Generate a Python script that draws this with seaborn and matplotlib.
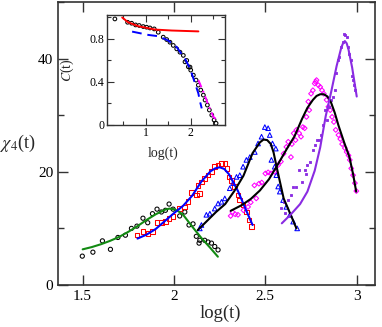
import numpy as np
import matplotlib
matplotlib.use("Agg")
import matplotlib.pyplot as plt
import seaborn as sns
from matplotlib.ticker import MultipleLocator

# --- main panel: chi_4(t) data sets ---
circ_x = [1.498, 1.556, 1.608, 1.652, 1.693, 1.734, 1.767, 1.797, 1.830, 1.856, 1.882, 1.907,
          1.931, 1.953, 1.973, 1.995, 2.031, 2.059, 2.082, 2.104, 2.122, 2.137, 2.141, 2.168,
          2.186, 2.205, 2.223, 2.241]
circ_y = [5.1, 5.8, 7.8, 6.3, 8.4, 8.8, 10.0, 10.4, 11.8, 11.0, 12.6, 13.4,
          12.9, 13.2, 14.3, 13.4, 12.2, 12.9, 10.6, 10.8, 8.6, 7.4, 7.9, 7.9,
          7.6, 7.4, 6.8, 6.2]

sq_x = [1.797, 1.830, 1.858, 1.882, 1.907, 1.931, 1.953, 1.973, 1.995, 2.031, 2.059, 2.077,
        2.095, 2.123, 2.141, 2.131, 2.150, 2.168, 2.186, 2.205, 2.223, 2.241, 2.260, 2.278,
        2.290, 2.301, 2.314, 2.332, 2.350, 2.360, 2.378, 2.396, 2.411, 2.424]
sq_y = [8.8, 9.5, 9.1, 9.4, 11.0, 11.0, 11.2, 11.8, 12.1, 13.5, 13.8, 14.7,
        16.3, 15.9, 16.2, 17.6, 18.2, 18.8, 19.4, 20.0, 20.9, 21.2, 21.5, 21.5,
        20.6, 19.1, 18.5, 17.4, 15.9, 15.0, 14.1, 12.9, 11.5, 10.3]

tri_x = [2.141, 2.150, 2.177, 2.196, 2.223, 2.241, 2.260, 2.278, 2.305, 2.323, 2.342, 2.360,
         2.378, 2.396, 2.415, 2.442, 2.460, 2.479, 2.497, 2.515, 2.524, 2.539, 2.557, 2.533,
         2.551, 2.560, 2.570, 2.579, 2.597, 2.615, 2.634, 2.652, 2.674]
tri_y = [10.0, 10.6, 12.4, 12.6, 13.5, 14.4, 14.7, 15.3, 17.1, 18.0, 19.1, 19.4,
         20.9, 22.1, 22.6, 23.5, 25.0, 26.2, 27.9, 27.7, 26.5, 25.0, 24.1, 22.1,
         20.9, 19.4, 17.4, 16.5, 15.0, 13.8, 12.4, 11.2, 10.0]

dia_x = [2.310, 2.320, 2.335, 2.350, 2.380, 2.405, 2.420, 2.440, 2.450, 2.465, 2.480, 2.500,
         2.515, 2.530, 2.550, 2.570, 2.585, 2.600, 2.615, 2.625, 2.640, 2.645, 2.655, 2.665,
         2.670, 2.685, 2.695, 2.705, 2.715, 2.725, 2.735, 2.740, 2.750, 2.760, 2.770, 2.775,
         2.780, 2.790, 2.800, 2.810, 2.820, 2.835, 2.845, 2.855, 2.865, 2.875, 2.885, 2.900,
         2.910, 2.920, 2.935, 2.945, 2.955, 2.962, 2.970, 2.980, 2.990, 2.998]
dia_y = [12.2, 12.9, 12.5, 12.4, 13.2, 13.8, 14.6, 17.6, 15.3, 17.9, 18.1, 19.7,
         19.9, 19.7, 20.0, 21.2, 21.8, 23.2, 24.4, 25.3, 22.6, 24.9, 26.8, 25.6,
         27.4, 26.8, 26.2, 27.9, 27.7, 29.7, 32.4, 30.9, 33.8, 34.4, 35.6, 35.9,
         36.2, 35.3, 35.0, 34.4, 33.8, 32.7, 31.5, 30.9, 29.7, 28.8, 27.4, 26.5,
         25.8, 24.9, 24.2, 23.5, 22.9, 22.1, 20.6, 19.4, 18.0, 16.6]

dot_x = [2.585, 2.600, 2.610, 2.625, 2.640, 2.650, 2.665, 2.685, 2.700, 2.715, 2.720, 2.730,
         2.745, 2.760, 2.770, 2.780, 2.795, 2.805, 2.815, 2.825, 2.840, 2.850, 2.860, 2.870,
         2.880, 2.885, 2.895, 2.905, 2.915, 2.925, 2.930, 2.937, 2.945, 2.952, 2.960, 2.968,
         2.975, 2.980, 2.985, 2.990]
dot_y = [13.6, 14.7, 12.8, 15.0, 15.9, 17.4, 17.4, 20.3, 18.2, 20.3, 19.6, 21.2,
         21.8, 23.8, 24.7, 25.6, 25.6, 26.5, 28.2, 30.9, 29.1, 31.5, 32.7, 33.2,
         34.4, 37.4, 39.7, 40.3, 42.0, 42.9, 44.4, 44.2, 43.8, 42.1, 40.9, 39.7,
         37.0, 36.2, 35.3, 34.4]

# fitted curves
green_x = [1.50, 1.55, 1.60, 1.65, 1.70, 1.75, 1.80, 1.85, 1.90, 1.95, 1.975, 2.00, 2.025,
           2.05, 2.10, 2.15, 2.20, 2.24]
green_y = [6.3, 6.7, 7.2, 7.8, 8.5, 9.4, 10.4, 11.5, 12.5, 13.3, 13.5, 13.4, 13.0,
           12.4, 10.3, 8.3, 6.5, 5.0]

bfit_x = [1.80, 1.85, 1.90, 1.95, 2.00, 2.05, 2.10, 2.15, 2.20, 2.225, 2.25, 2.275, 2.30,
          2.35, 2.40, 2.43]
bfit_y = [8.2, 8.9, 9.9, 11.3, 12.7, 14.0, 15.8, 18.3, 20.1, 20.6, 20.8, 20.5, 19.6,
          16.6, 12.8, 10.6]

k1_x = [2.13, 2.18, 2.23, 2.28, 2.33, 2.38, 2.43, 2.47, 2.49, 2.51, 2.53, 2.545, 2.56,
        2.60, 2.64, 2.67]
k1_y = [9.7, 11.3, 12.9, 14.3, 16.6, 19.3, 23.3, 25.2, 25.7, 25.6, 24.9, 23.4, 21.1,
        15.3, 12.3, 10.0]

k2_x = [2.31, 2.37, 2.42, 2.47, 2.52, 2.57, 2.62, 2.66, 2.70, 2.73, 2.76, 2.78, 2.80,
        2.82, 2.84, 2.86, 2.88, 2.90, 2.93, 2.96, 2.98, 2.997]
k2_y = [13.1, 14.1, 15.2, 16.7, 18.7, 21.4, 24.2, 26.3, 29.3, 31.3, 32.7, 33.4, 33.7,
        33.7, 33.3, 32.2, 30.4, 28.2, 25.3, 22.6, 19.6, 16.5]

vio_x = [2.59, 2.64, 2.69, 2.73, 2.77, 2.80, 2.83, 2.86, 2.89, 2.915, 2.925, 2.935,
         2.945, 2.955, 2.975, 3.0]
vio_y = [10.9, 12.5, 14.3, 16.5, 20.2, 24.3, 29.8, 34.1, 38.7, 41.9, 42.7, 43.1,
         42.7, 41.6, 38.4, 33.3]

# --- inset: C(t) ---
c_x = [0.318, 0.60, 0.689, 0.778, 0.858, 0.947, 1.022, 1.096, 1.19, 1.28, 1.39, 1.467, 1.54,
       1.613, 1.689, 1.762, 1.836, 1.873, 1.911, 1.947, 1.984, 2.0, 2.058, 2.118, 2.169, 2.222,
       2.28, 2.318, 2.369, 2.413, 2.467, 2.518, 2.562]
c_y = [0.986, 0.955, 0.946, 0.93, 0.925, 0.915, 0.909, 0.902, 0.893, 0.862, 0.816, 0.794, 0.769,
       0.739, 0.707, 0.676, 0.646, 0.586, 0.599, 0.54, 0.537, 0.509, 0.462, 0.416, 0.369, 0.323,
       0.276, 0.23, 0.183, 0.137, 0.09, 0.044, 0.013]
red_x = [0.48, 0.61, 0.84, 1.21, 1.58, 2.17]
red_y = [1.0, 0.955, 0.918, 0.887, 0.878, 0.870]
bdash_x = [0.70, 1.06, 1.28, 1.50, 1.69, 1.873, 1.984, 2.096, 2.169, 2.207, 2.244]
bdash_y = [0.868, 0.837, 0.825, 0.785, 0.723, 0.614, 0.525, 0.385, 0.292, 0.214, 0.152]
mdd_x = [2.169, 2.28, 2.391, 2.502, 2.578]
mdd_y = [0.416, 0.307, 0.183, 0.074, 0.044]

sns.set_theme(style="ticks")
plt.rcParams['font.family'] = ['Liberation Serif', 'DejaVu Serif']
plt.rcParams['mathtext.fontset'] = 'stix'
plt.rcParams['axes.edgecolor'] = '#333333'
plt.rcParams['xtick.color'] = '#333333'
plt.rcParams['ytick.color'] = '#333333'
plt.rcParams['xtick.labelcolor'] = 'black'
plt.rcParams['ytick.labelcolor'] = 'black'

fig = plt.figure(figsize=(3.82, 3.27), dpi=100)
ax = fig.add_axes([58 / 382, 1 - 285 / 327, 317 / 382, 283 / 327])

open_kw = dict(facecolors='none', linewidth=0.75, legend=False)
sns.scatterplot(x=circ_x, y=circ_y, marker='o', s=9, edgecolor='black', ax=ax, **open_kw)
sns.scatterplot(x=sq_x, y=sq_y, marker='s', s=11, edgecolor='red', ax=ax, **open_kw)
sns.scatterplot(x=tri_x, y=tri_y, marker='^', s=11, edgecolor='blue', ax=ax, **open_kw)
sns.scatterplot(x=dia_x, y=dia_y, marker='D', s=6, edgecolor='#ff00ff', ax=ax, **open_kw)
sns.scatterplot(x=dot_x, y=dot_y, marker='s', s=3, color='#8a2be2', edgecolor='#8a2be2',
                linewidth=0.6, ax=ax, legend=False)

line_kw = dict(sort=False, estimator=None, lw=1.5, legend=False)
sns.lineplot(x=green_x, y=green_y, color='#128a12', ax=ax, **line_kw)
sns.lineplot(x=bfit_x, y=bfit_y, color='blue', ax=ax, **line_kw)
sns.lineplot(x=k1_x, y=k1_y, color='black', ax=ax, **line_kw)
sns.lineplot(x=k2_x, y=k2_y, color='black', ax=ax, **line_kw)
sns.lineplot(x=vio_x, y=vio_y, color='#8a2be2', ax=ax, **line_kw)

ax.set_xlim(1.365, 3.1)
ax.set_ylim(0, 50)
ax.yaxis.set_major_locator(MultipleLocator(20))
ax.yaxis.set_minor_locator(MultipleLocator(10))
ax.set_xticks([1.5, 2, 2.5, 3])
ax.set_xticklabels(['1.5', '2', '2.5', '3'])
ax.tick_params(which='both', direction='in', top=True, right=True, labelsize=11, width=1)
ax.tick_params(which='major', length=7)
ax.tick_params(which='minor', length=4)
ax.set_xlabel('log(t)', fontsize=13.5, va='top')
ax.xaxis.set_label_coords(0.511, -0.068)
ax.set_ylabel(r'$\chi_4$(t)', fontsize=13, rotation=0, ha='center', va='center')
ax.yaxis.set_label_coords(-0.126, 0.50)
for s in ax.spines.values():
    s.set_linewidth(1.2)

# inset
ins = fig.add_axes([107.3 / 382, 1 - 124.7 / 327, 117.7 / 382, 109.4 / 327])
sns.scatterplot(x=c_x, y=c_y, marker='o', s=7, edgecolor='black', ax=ins, **open_kw)
sns.lineplot(x=red_x, y=red_y, color='red', sort=False, estimator=None, lw=1.4, ax=ins, legend=False)
sns.lineplot(x=bdash_x, y=bdash_y, color='blue', sort=False, estimator=None, lw=1.4,
             dashes=False, ax=ins, legend=False, linestyle=(0, (5, 3)))
sns.lineplot(x=mdd_x, y=mdd_y, color='#ff00ff', sort=False, estimator=None, lw=1.4,
             dashes=False, ax=ins, legend=False, linestyle=(0, (4, 2, 1, 2)))
ins.set_xlim(0.15, 2.76)
ins.set_ylim(0, 1.02)
ins.set_xticks([1, 2])
ins.set_xticklabels(['1', '2'])
ins.xaxis.set_minor_locator(MultipleLocator(0.5))
ins.set_yticks([0, 0.4, 0.8])
ins.set_yticklabels(['0', '0.4', '0.8'])
ins.yaxis.set_minor_locator(MultipleLocator(0.2))
ins.tick_params(which='both', direction='in', top=True, right=True, labelsize=8.5, width=0.8, pad=2)
ins.tick_params(which='major', length=5)
ins.tick_params(which='minor', length=3)
ins.set_xlabel('log(t)', fontsize=10)
ins.xaxis.set_label_coords(0.473, -0.2)
ins.set_ylabel(r'$C$(t)', fontsize=10)
ins.yaxis.set_label_coords(-0.27, 0.5)
for s in ins.spines.values():
    s.set_linewidth(1.0)

fig.savefig('out.png', dpi=100)
